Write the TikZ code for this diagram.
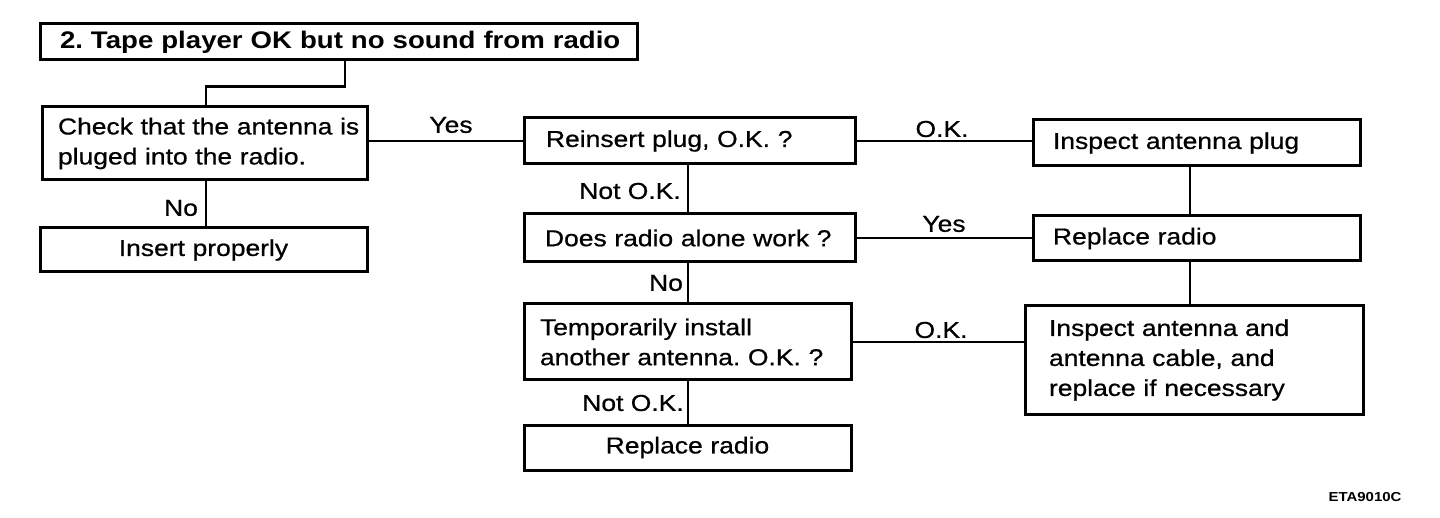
\documentclass[tikz,border=0pt]{standalone}
\usepackage{fontspec}
\setmainfont[FakeStretch=1.15, UprightFeatures={FakeBold=0.7}]{Liberation Sans}
\frenchspacing
\newcommand\diagfont{\fontsize{23pt}{30pt}\selectfont}
\newcommand\titlefont{\fontsize{24pt}{30pt}\selectfont\bfseries}
\begin{document}
\begin{tikzpicture}[x=1pt,y=-1pt,
  box/.style={draw, line width=3pt, inner ysep=0pt, font=\diagfont},
  lbox/.style={box, align=left},
  cbox/.style={box, align=center},
  conn/.style={line width=2.8pt},
  lab/.style={font=\diagfont, inner sep=0pt}]
\useasboundingbox (0,0) rectangle (1440,518);
% boxes
\node[lbox, font=\titlefont, minimum width=597pt, minimum height=36pt, text width=557pt, inner xsep=20pt] (title) at (338.5,42) {\mbox{2. Tape player OK but no sound from radio}};
\node[lbox, minimum width=325pt, minimum height=73pt, text width=293pt, inner xsep=16pt] (check) at (204.5,143.5) {\mbox{Check that the antenna is}\\\mbox{pluged into the radio.}};
\node[cbox, minimum width=327pt, minimum height=44pt, text width=307pt, inner xsep=10pt] (insert) at (203.5,250) {Insert properly};
\node[lbox, minimum width=331pt, minimum height=46pt, text width=287pt, inner xsep=22pt] (reins) at (689.5,141) {\mbox{Reinsert plug, O.K. ?}};
\node[lbox, minimum width=327pt, minimum height=46pt, text width=287pt, inner xsep=20pt] (plug) at (1196.5,143) {\mbox{Inspect antenna plug}};
\node[lbox, minimum width=331pt, minimum height=48pt, text width=289pt, inner xsep=21pt] (does) at (689.5,238) {\mbox{Does radio alone work ?}};
\node[lbox, minimum width=327pt, minimum height=45pt, text width=287pt, inner xsep=20pt] (repR) at (1196.5,238.5) {\mbox{Replace radio}};
\node[lbox, minimum width=327pt, minimum height=76pt, text width=295pt, inner xsep=16pt] (temp) at (687.5,342) {\mbox{Temporarily install}\\\mbox{another antenna. O.K. ?}};
\node[lbox, minimum width=338pt, minimum height=108pt, text width=290pt, inner xsep=24pt] (inspA) at (1194,360) {\mbox{Inspect antenna and}\\\mbox{antenna cable, and}\\\mbox{replace if necessary}};
\node[cbox, minimum width=327pt, minimum height=45pt, text width=307pt, inner xsep=10pt] (repB) at (687.5,447.5) {Replace radio};
% helper coordinates
\coordinate (tx) at (345,0);
\coordinate (cx) at (206,0);
\coordinate (rx) at (1190,0);
\coordinate (mx) at (688,0);
% connectors
\draw[conn] (title.south -| tx) -- ++(0,25) -| (check.north -| cx);
\draw[conn] (check.south -| cx) -- (insert.north -| cx);
\draw[conn] (reins.west -| check.east) -- (reins.west);
\draw[conn] (reins.east) -- (plug.west |- reins.east);
\draw[conn] (plug.south -| rx) -- (repR.north -| rx);
\draw[conn] (repR.south -| rx) -- (inspA.north -| rx);
\draw[conn] (reins.south -| mx) -- (does.north -| mx);
\draw[conn] (does.east) -- (repR.west |- does.east);
\draw[conn] (does.south -| mx) -- (temp.north -| mx);
\draw[conn] (temp.east) -- (inspA.west |- temp.east);
\draw[conn] (temp.south -| mx) -- (repB.north -| mx);
% labels
\node[lab] (l1) at (451,125) {Yes};
\node[lab] (l2) at (181,208) {No};
\node[lab] (l3) at (630,191) {Not O.K.};
\node[lab] (l4) at (942,129) {O.K.};
\node[lab] (l5) at (944,224) {Yes};
\node[lab] (l6) at (666,283) {No};
\node[lab] (l7) at (941,330) {O.K.};
\node[lab] (l8) at (633,403) {Not O.K.};
\node[lab, font=\fontsize{13pt}{15pt}\selectfont\bfseries] (code) at (1365,497) {ETA9010C};
\end{tikzpicture}
\end{document}
